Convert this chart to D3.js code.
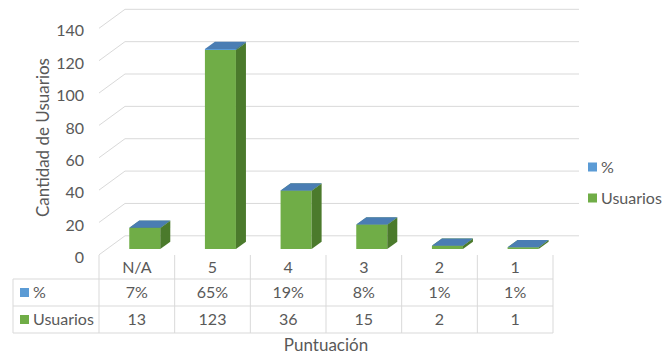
<!DOCTYPE html>
<html>
<head>
<meta charset="utf-8">
<script src="https://cdn.jsdelivr.net/npm/d3@7"></script>
<style>
  html, body { margin: 0; padding: 0; background: #fff; }
  svg text { font-family: Lato, "Open Sans", sans-serif; fill: #595959; }
</style>
</head>
<body>
<svg id="chart" width="665" height="356"></svg>
<script>
// Chart data
const categories = ["N/A", "5", "4", "3", "2", "1"];
const usuarios = [13, 123, 36, 15, 2, 1];
const porcentaje = [0.07, 0.65, 0.19, 0.08, 0.01, 0.01];
const yTicks = [0, 20, 40, 60, 80, 100, 120, 140];
const seriesNames = ["%", "Usuarios"];
const seriesColors = ["#5b9bd5", "#70ad47"];

const svg = d3.select("#chart");
const fontSize = 16;

// Front plane of the 3D box
const x = d3.scaleBand().domain(categories).range([99, 553]).paddingInner(0).paddingOuter(0);
const y = d3.scaleLinear().domain([0, 140]).range([254.8, 28.3]);

// Oblique depth vector for the full floor depth
const DX = 26, DY = -19;
const proj = (px, py, z) => [px + DX * z, py + DY * z];

// Bars sit between these depth fractions
const zFront = 0.305, zBack = 0.69;
const barFrac = 0.41;

const grid = svg.append("g");
// Back wall gridlines plus left wall diagonals
yTicks.forEach(t => {
  const yf = y(t);
  const [bx0, by0] = proj(x.range()[0], yf, 1);
  const [bx1] = proj(x.range()[1], yf, 1);
  grid.append("line").attr("x1", bx0).attr("y1", by0).attr("x2", bx1).attr("y2", by0)
    .attr("stroke", "#d9d9d9").attr("stroke-width", 1);
  grid.append("line").attr("x1", x.range()[0]).attr("y1", yf).attr("x2", bx0).attr("y2", by0)
    .attr("stroke", "#d9d9d9").attr("stroke-width", 1);
});

// Y axis labels on the front plane
const yAxis = d3.axisLeft(y).tickValues(yTicks).tickSize(0).tickPadding(0);
const yg = svg.append("g").attr("transform", "translate(84,0)").call(yAxis);
yg.select(".domain").remove();
yg.selectAll("text")
  .attr("font-size", fontSize)
  .attr("font-family", "Lato, 'Open Sans', sans-serif")
  .attr("fill", "#595959")
  .attr("dy", "0.48em");

// Draw one 3D box from value v0 to v1 for a category
function box(g, cat, v0, v1, front, side, top) {
  const bw = x.bandwidth() * barFrac;
  const cx = x(cat) + x.bandwidth() / 2 - bw / 2;
  const x0 = cx, x1 = cx + bw;
  const yb = y(v0), yt = y(v1);
  const p = (px, py, z) => proj(px, py, z).join(",");
  // front face
  g.append("polygon")
    .attr("points", [p(x0, yb, zFront), p(x1, yb, zFront), p(x1, yt, zFront), p(x0, yt, zFront)].join(" "))
    .attr("fill", front);
  // right side face
  g.append("polygon")
    .attr("points", [p(x1, yb, zFront), p(x1, yb, zBack), p(x1, yt, zBack), p(x1, yt, zFront)].join(" "))
    .attr("fill", side);
  // top face
  if (top) {
    g.append("polygon")
      .attr("points", [p(x0, yt, zFront), p(x1, yt, zFront), p(x1, yt, zBack), p(x0, yt, zBack)].join(" "))
      .attr("fill", top);
  }
}

const bars = svg.append("g");
categories.forEach((c, i) => {
  const g = bars.append("g");
  // Usuarios column
  box(g, c, 0, usuarios[i], "#70ad47", "#4b7a2c", "#5f9a3a");
  // % series stacked on top
  box(g, c, usuarios[i], usuarios[i] + porcentaje[i], "#5b9bd5", "#3e6f9e", "#4a7db3");
});

// Data table below the plot
const rowTop = 255, rowY = [279, 306, 333];
const tableLeft = 13;
const tbl = svg.append("g");
const lineColor = "#d9d9d9";
rowY.forEach(ry => {
  tbl.append("line").attr("x1", tableLeft).attr("x2", x.range()[1]).attr("y1", ry).attr("y2", ry)
    .attr("stroke", lineColor).attr("stroke-width", 1);
});
categories.forEach(c => {
  tbl.append("line").attr("x1", x(c)).attr("x2", x(c)).attr("y1", rowTop).attr("y2", rowY[2])
    .attr("stroke", lineColor).attr("stroke-width", 1);
});
tbl.append("line").attr("x1", x.range()[1]).attr("x2", x.range()[1]).attr("y1", rowTop).attr("y2", rowY[2])
  .attr("stroke", lineColor).attr("stroke-width", 1);
tbl.append("line").attr("x1", tableLeft).attr("x2", tableLeft).attr("y1", rowY[0]).attr("y2", rowY[2])
  .attr("stroke", lineColor).attr("stroke-width", 1);

const pctFmt = d3.format(".0%");
const rows = [
  { y: (rowTop + rowY[0]) / 2, vals: categories },
  { y: (rowY[0] + rowY[1]) / 2, vals: porcentaje.map(pctFmt) },
  { y: (rowY[1] + rowY[2]) / 2, vals: usuarios.map(String) }
];
rows.forEach(r => {
  categories.forEach((c, i) => {
    tbl.append("text")
      .attr("x", x(c) + x.bandwidth() / 2)
      .attr("y", r.y)
      .attr("dy", "0.36em")
      .attr("text-anchor", "middle")
      .attr("font-size", fontSize)
      .text(r.vals[i]);
  });
});

// Series keys in the table rows
seriesNames.forEach((name, i) => {
  const ry = rows[i + 1].y;
  tbl.append("rect").attr("x", 20).attr("y", ry - 4.5).attr("width", 9).attr("height", 9)
    .attr("fill", seriesColors[i]);
  tbl.append("text").attr("x", 33).attr("y", ry).attr("dy", "0.36em")
    .attr("font-size", fontSize).text(name);
});

// Legend on the right
const legendY = [167, 198];
seriesNames.forEach((name, i) => {
  svg.append("rect").attr("x", 588).attr("y", legendY[i] - 4.5).attr("width", 9).attr("height", 9)
    .attr("fill", seriesColors[i]);
  svg.append("text").attr("x", 601).attr("y", legendY[i]).attr("dy", "0.36em")
    .attr("font-size", fontSize).text(name);
});

// Axis titles
svg.append("text")
  .attr("x", (x.range()[0] + x.range()[1]) / 2)
  .attr("y", 350.5)
  .attr("text-anchor", "middle")
  .attr("font-size", 17)
  .text("Puntuación");

svg.append("text")
  .attr("transform", "translate(48.5,137.5) rotate(-90)")
  .attr("text-anchor", "middle")
  .attr("font-size", 17)
  .text("Cantidad de Usuarios");
</script>
</body>
</html>
